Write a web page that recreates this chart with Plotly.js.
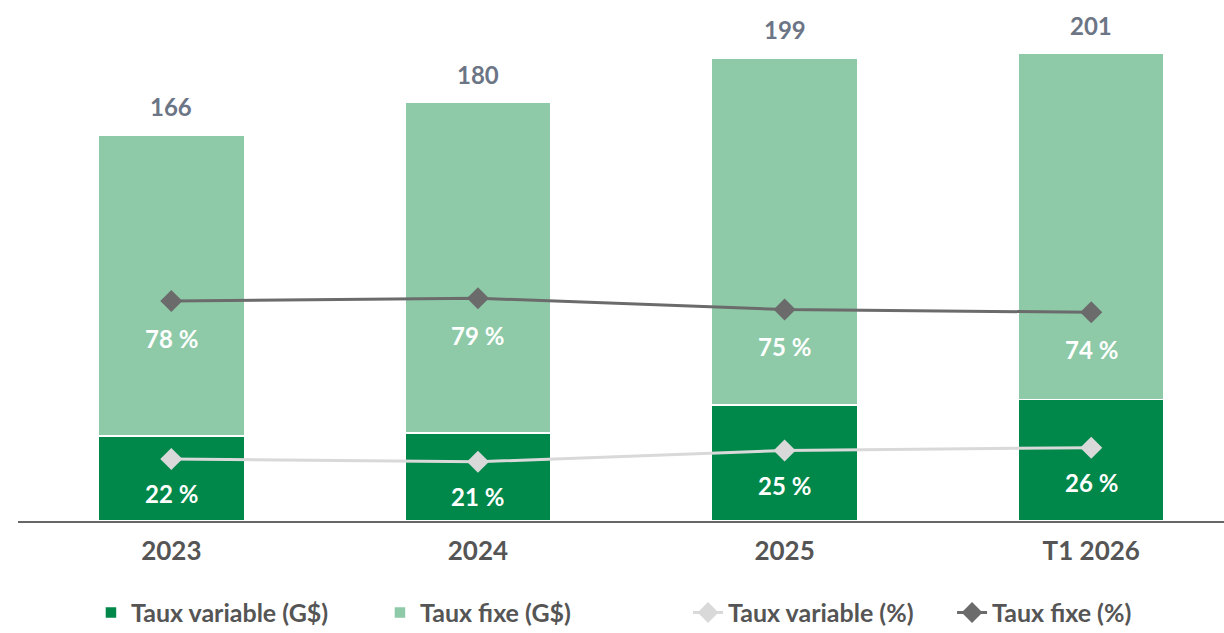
<!DOCTYPE html>
<html><head><meta charset="utf-8">
<script src="https://cdn.plot.ly/plotly-3.0.1.min.js"></script>
<style>html,body{margin:0;padding:0;background:#fff}#chart{width:1224px;height:633px}</style>
</head><body><div id="chart"></div>
<script>
const categories = ["2023", "2024", "2025", "T1 2026"];
const variableGd = [36.5, 37.8, 49.8, 52.3];
const fixeGd = [129.5, 142.2, 149.2, 148.7];
const totals = [166, 180, 199, 201];
const variablePct = [22, 21, 25, 26];
const fixePct = [78, 79, 75, 74];

const FONT = "Lato, 'Open Sans', sans-serif";
const DARK = "#00874A", LIGHT = "#8ECAA8";

const traces = [
  {type:"bar", name:"Taux variable (G$)", x:categories, y:variableGd, marker:{color:DARK, line:{color:"#fff", width:1.5}}, width:0.476, hoverinfo:"skip", legend:"legend"},
  {type:"bar", name:"Taux fixe (G$)", x:categories, y:fixeGd, marker:{color:LIGHT, line:{color:"#fff", width:1.5}}, width:0.476, hoverinfo:"skip", legend:"legend"},
  {type:"scatter", mode:"lines+markers", name:"Taux variable (%)", x:categories, y:variablePct, yaxis:"y2", line:{color:"#D9D9D9", width:3}, marker:{symbol:"diamond", size:17, color:"#D9D9D9"}, legend:"legend2"},
  {type:"scatter", mode:"lines+markers", name:"Taux fixe (%)", x:categories, y:fixePct, yaxis:"y2", line:{color:"#6B6B6B", width:3}, marker:{symbol:"diamond", size:17, color:"#6B6B6B"}, legend:"legend2"}
];

const annotations = [];
categories.forEach((c,i)=>{
  annotations.push({x:i, y:totals[i], xref:"x", yref:"y", text:String(totals[i]), showarrow:false, yanchor:"bottom", yshift:12, font:{family:FONT, size:24, color:"#6B7585", weight:700}});
  annotations.push({x:i, y:fixePct[i], xref:"x", yref:"y2", text:fixePct[i]+" %", showarrow:false, yanchor:"middle", yshift:-37, font:{family:FONT, size:24, color:"#fff", weight:700}});
  annotations.push({x:i, y:variablePct[i], xref:"x", yref:"y2", text:variablePct[i]+" %", showarrow:false, yanchor:"middle", yshift:-35, font:{family:FONT, size:24, color:"#fff", weight:700}});
});

const legendFont = {family:FONT, size:25, color:"#555", weight:700};
const layout = {
  width:1224, height:633,
  margin:{l:18, r:0, t:10, b:112},
  paper_bgcolor:"#fff", plot_bgcolor:"#fff",
  barmode:"stack",
  font:{family:FONT},
  xaxis:{type:"category", range:[-0.5, 3.433], showgrid:false, zeroline:false, showline:true, linecolor:"#666", linewidth:2, ticks:"", tickfont:{family:FONT, size:26, color:"#555", weight:700}, ticklabelstandoff:6, fixedrange:true},
  yaxis:{range:[0, 219.8], visible:false, showgrid:false, zeroline:false, fixedrange:true},
  yaxis2:{range:[0, 181.2], overlaying:"y", side:"right", visible:false, showgrid:false, zeroline:false, fixedrange:true},
  legend:{orientation:"h", traceorder:"normal", xref:"paper", yref:"container", x:0.0605, y:0.032, xanchor:"left", yanchor:"middle", font:legendFont, entrywidth:244, entrywidthmode:"pixels", bgcolor:"rgba(0,0,0,0)"},
  legend2:{orientation:"h", traceorder:"normal", xref:"paper", yref:"container", x:0.5556, y:0.032, xanchor:"left", yanchor:"middle", font:legendFont, entrywidth:219, entrywidthmode:"pixels", bgcolor:"rgba(0,0,0,0)"},
  annotations:annotations,
  showlegend:true
};
Plotly.newPlot("chart", traces, layout, {displayModeBar:false, staticPlot:true});
</script></body></html>
